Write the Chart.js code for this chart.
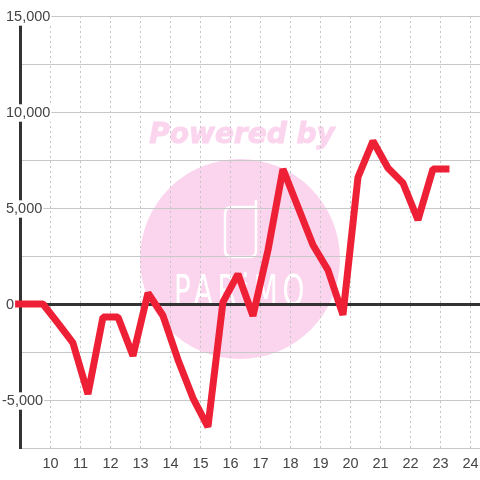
<!DOCTYPE html>
<html>
<head>
<meta charset="utf-8">
<title>Chart</title>
<script src="https://cdn.jsdelivr.net/npm/chart.js@4"></script>
<style>
  html, body { margin: 0; padding: 0; background: #fff; }
  canvas { display: block; }
</style>
</head>
<body>
<canvas id="myChart" width="480" height="480"></canvas>
<script>
const hours = [8.75, 9.25, 9.75, 10.25, 10.75, 11.25, 11.75, 12.25, 12.75, 13.25, 13.75, 14.25, 14.75, 15.25, 15.75, 16.25, 16.75, 17.25, 17.75, 18.25, 18.75, 19.25, 19.75, 20.25, 20.75, 21.25, 21.75, 22.25, 22.75, 23.3];
const values = [0, 0, 0, -1000, -2030, -4690, -680, -680, -2700, 570, -600, -2900, -4900, -6400, 100, 1560, -620, 2800, 7030, 5050, 3070, 1770, -570, 6600, 8490, 7080, 6300, 4375, 7030, 7030];
const xTicks = [9, 10, 11, 12, 13, 14, 15, 16, 17, 18, 19, 20, 21, 22, 23, 24];
const yTicks = [-7500, -5000, -2500, 0, 2500, 5000, 7500, 10000, 12500, 15000];
const yLabelled = [-5000, 0, 5000, 10000, 15000];

// watermark sits behind the grid
const watermark = {
    id: "watermark",
    beforeDraw(chart) {
        const ctx = chart.ctx;
        ctx.save();
        ctx.fillStyle = "#ffffff";
        ctx.fillRect(0, 0, 480, 480);

        ctx.fillStyle = "#fbd5ee";
        ctx.beginPath();
        ctx.arc(240, 259, 100, 0, Math.PI * 2);
        ctx.fill();

        ctx.font = "italic bold 28px 'DejaVu Sans'";
        ctx.textAlign = "center";
        ctx.textBaseline = "middle";
        ctx.strokeStyle = "#fbd5ee";
        ctx.lineWidth = 1;
        ctx.fillText("Powered by", 242, 136);
        ctx.strokeText("Powered by", 242, 136);

        ctx.strokeStyle = "#ffffff";
        ctx.lineWidth = 2.5;
        ctx.lineJoin = "round";
        ctx.lineCap = "round";
        ctx.beginPath();
        ctx.moveTo(254, 207);
        ctx.lineTo(232, 207);
        ctx.quadraticCurveTo(225, 207, 225, 214);
        ctx.lineTo(225, 250);
        ctx.quadraticCurveTo(225, 257, 232, 257);
        ctx.lineTo(250, 257);
        ctx.quadraticCurveTo(256, 257, 256, 251);
        ctx.lineTo(256, 201);
        ctx.stroke();

        ctx.fillStyle = "#ffffff";
        ctx.save();
        ctx.translate(240, 305);
        ctx.scale(1.55, 2.4);
        ctx.font = "18px 'DejaVu Sans'";
        ctx.textAlign = "center";
        ctx.textBaseline = "alphabetic";
        ctx.letterSpacing = "3px";
        ctx.fillText("PARiMO", 1, 0);
        ctx.restore();
        ctx.restore();
    }
};

new Chart(document.getElementById("myChart"), {
    type: "line",
    plugins: [watermark],
    data: {
        datasets: [{
            data: hours.map((h, i) => ({ x: h, y: values[i] })),
            borderColor: "#ee2036",
            borderWidth: 7,
            tension: 0,
            pointRadius: 0,
            borderJoinStyle: "bevel",
            borderCapStyle: "butt",
            clip: false
        }]
    },
    options: {
        responsive: false,
        animation: false,
        layout: { padding: { top: 16 } },
        plugins: { legend: { display: false }, tooltip: { enabled: false } },
        scales: {
            x: {
                type: "linear",
                min: 8.985,
                max: 24.318,
                afterBuildTicks: (axis) => { axis.ticks = xTicks.map(v => ({ value: v })); },
                afterFit: (axis) => {
                    axis.height = 32;
                    axis.paddingLeft = 0;
                    axis.paddingRight = 0;
                },
                border: { display: false, dash: [2, 3] },
                grid: {
                    color: "#c4c4c4",
                    lineWidth: 1,
                    drawTicks: false
                },
                ticks: {
                    autoSkip: false,
                    maxRotation: 0,
                    padding: 7,
                    color: "#444444",
                    font: { family: "'Liberation Sans'", size: 14.5 },
                    callback: (v) => (v === 9 ? "" : String(v))
                }
            },
            y: {
                min: -7500,
                max: 15000,
                afterBuildTicks: (axis) => { axis.ticks = yTicks.map(v => ({ value: v })); },
                afterFit: (axis) => {
                    axis.width = 20;
                    axis.paddingTop = 0;
                    axis.paddingBottom = 0;
                },
                border: { color: "#333333", width: 3 },
                grid: {
                    drawTicks: false,
                    color: (c) => (c.tick && c.tick.value === 0 ? "#333333" : "#c8c8c8"),
                    lineWidth: (c) => (c.tick && c.tick.value === 0 ? 3 : 1)
                },
                ticks: {
                    autoSkip: false,
                    mirror: true,
                    padding: -18,
                    labelOffset: 1,
                    z: 1,
                    color: "#444444",
                    font: { family: "'Liberation Sans'", size: 14.5 },
                    showLabelBackdrop: (c) => yLabelled.includes(c.tick.value),
                    backdropColor: "#ffffff",
                    backdropPadding: { top: 0, bottom: 0, left: 0, right: 1 },
                    callback: (v) => {
                        if (!yLabelled.includes(v)) return "";
                        const text = v.toLocaleString("en-US");
                        return v < 0 ? text : " " + text;
                    }
                }
            }
        }
    }
});
</script>
</body>
</html>
